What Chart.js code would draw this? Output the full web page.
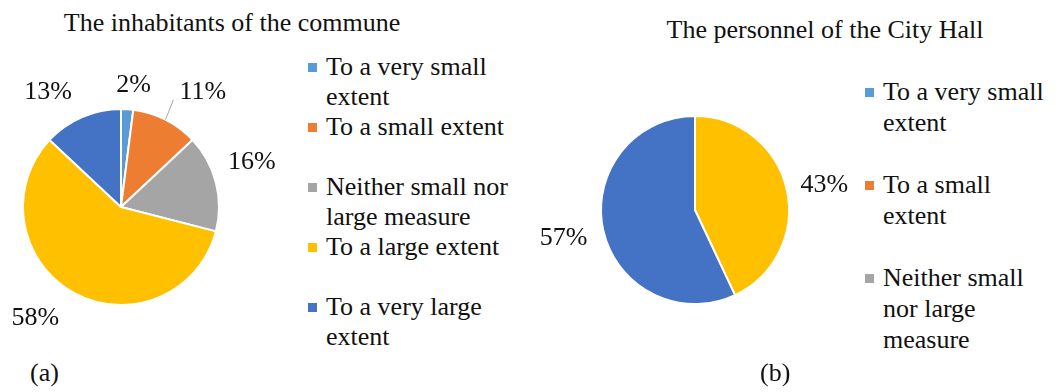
<!DOCTYPE html>
<html>
<head>
<meta charset="utf-8">
<title>Survey pies</title>
<script src="https://cdn.jsdelivr.net/npm/chart.js@4.4.1/dist/chart.umd.min.js"></script>
<style>
    html, body { margin: 0; padding: 0; background: #fff; }
    body {
        width: 1062px; height: 392px; position: relative; overflow: hidden;
        font-family: "Liberation Serif", "Times New Roman", serif; color: #111;
    }
    .title, .caption {
        position: absolute; font-size: 26px; line-height: 26px; white-space: nowrap;
    }
    .title { transform: translateX(-50%); }
    canvas { position: absolute; }
    .legend { position: absolute; overflow: hidden; font-size: 26px; }
    .legend .item { position: relative; }
    .legend .box { position: absolute; left: 0; width: 9px; height: 9px; }
</style>
</head>
<body>

<div class="title" style="left:232px; top:10px;">The inhabitants of the commune</div>
<canvas id="pieA" width="290" height="290" style="left:0; top:60px;"></canvas>
<div class="legend" id="legendA" style="left:308px; top:52px; width:215px; height:300px;"></div>
<div class="caption" style="left:30px; top:360px;">(a)</div>

<div class="title" style="left:825px; top:17px;">The personnel of the City Hall</div>
<canvas id="pieB" width="330" height="300" style="left:530px; top:60px;"></canvas>
<div class="legend" id="legendB" style="left:865px; top:76px; width:197px; height:279px;"></div>
<div class="caption" style="left:760px; top:360px;">(b)</div>

<script>
const categories = [
    "To a very small extent",
    "To a small extent",
    "Neither small nor large measure",
    "To a large extent",
    "To a very large extent"
];
const inhabitantsShare = [2, 11, 16, 58, 13];
const personnelShare = [0, 0, 0, 43, 57];
const sliceColors = ["#5B9BD5", "#ED7D31", "#A5A5A5", "#FFC000", "#4472C4"];

/* ============================
   PERCENT LABELS OUTSIDE THE PIE
============================ */
const pieLabels = {
    id: "pieLabels",
    afterDatasetsDraw(chart, args, opts) {
        const ctx = chart.ctx;
        const values = chart.data.datasets[0].data;
        ctx.save();
        ctx.font = opts.font;
        ctx.textAlign = "center";
        ctx.textBaseline = "middle";
        chart.getDatasetMeta(0).data.forEach((arc, i) => {
            if (!values[i]) return;
            const p = arc.getProps(["x", "y", "startAngle", "endAngle", "outerRadius"], true);
            const mid = (p.startAngle + p.endAngle) / 2;
            const nudge = (opts.nudge && opts.nudge[i]) || [0, 0];
            const lx = p.x + Math.cos(mid) * p.outerRadius * opts.distance + nudge[0];
            const ly = p.y + Math.sin(mid) * p.outerRadius * opts.distance + nudge[1];
            const text = values[i] + "%";

            if (opts.leaders && opts.leaders[i]) {
                const ex = p.x + Math.cos(mid) * p.outerRadius;
                const ey = p.y + Math.sin(mid) * p.outerRadius;
                const hw = ctx.measureText(text).width / 2;
                const tx = Math.min(Math.max(ex, lx - hw), lx + hw) - 6;
                const ty = Math.min(Math.max(ey, ly - 11), ly + 11) - 3;
                ctx.strokeStyle = "#A6A6A6";
                ctx.lineWidth = 1;
                ctx.beginPath();
                ctx.moveTo(ex, ey);
                ctx.lineTo(tx, ty);
                ctx.stroke();
            }

            ctx.fillStyle = opts.color;
            ctx.fillText(text, lx, ly);
        });
        ctx.restore();
    }
};

function buildLegend(el, slot, lineHeight, textWidth) {
    categories.forEach((name, i) => {
        const item = document.createElement("div");
        item.className = "item";
        item.style.height = slot + "px";
        item.style.lineHeight = lineHeight + "px";

        const box = document.createElement("span");
        box.className = "box";
        box.style.background = sliceColors[i];
        box.style.top = (lineHeight / 2 - 4) + "px";

        const text = document.createElement("div");
        text.textContent = name;
        text.style.marginLeft = "18px";
        text.style.width = textWidth + "px";

        item.appendChild(box);
        item.appendChild(text);
        el.appendChild(item);
    });
}

function makePie(canvasId, values, padding, labelOpts) {
    return new Chart(document.getElementById(canvasId), {
        type: "pie",
        data: {
            labels: categories,
            datasets: [{
                data: values,
                backgroundColor: sliceColors,
                borderColor: "#ffffff",
                borderWidth: 2
            }]
        },
        options: {
            responsive: false,
            animation: false,
            events: [],
            layout: { padding: padding },
            plugins: {
                legend: { display: false },
                tooltip: { enabled: false },
                pieLabels: Object.assign({
                    font: "26px 'Liberation Serif'",
                    color: "#111",
                    distance: 1.41
                }, labelOpts)
            }
        },
        plugins: [pieLabels]
    });
}

document.addEventListener("DOMContentLoaded", function () {
    buildLegend(document.getElementById("legendA"), 60, 30, 192);
    buildLegend(document.getElementById("legendB"), 93, 31, 175);

    makePie("pieA", inhabitantsShare,
        { left: 22, right: 70, top: 48, bottom: 44 },
        {
            nudge: [[4, 16], [19, 8], [-3, -10], [-19, -10], [-18, 12]],
            leaders: [false, true, false, false, false]
        });

    makePie("pieB", personnelShare,
        { left: 70, right: 70, top: 55, bottom: 55 },
        { nudge: [[0, 0], [0, 0], [0, 0], [0, 4], [-2, -1]] });
});
</script>
</body>
</html>
